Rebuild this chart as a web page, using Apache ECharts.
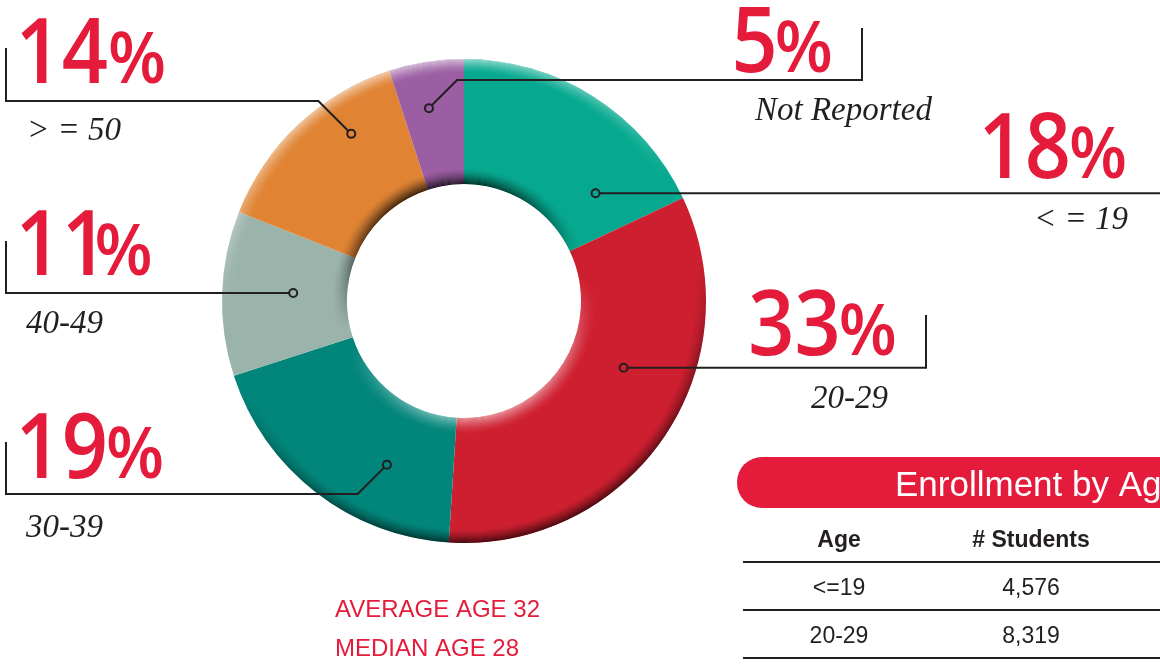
<!DOCTYPE html>
<html>
<head>
<meta charset="utf-8">
<script src="https://cdn.jsdelivr.net/npm/echarts@6/dist/echarts.min.js"></script>
<style>
html,body{margin:0;padding:0;background:#ffffff;}
#c{width:1160px;height:666px;}
</style>
</head>
<body>
<div id="c"></div>
<script>
// ---------------- data ----------------
const categories = ['< = 19', '20-29', '30-39', '40-49', '> = 50', 'Not Reported'];
const percents = [18, 33, 19, 11, 14, 5];
const sliceColors = ['#06A98F', '#CE1F30', '#02857A', '#9AB3AB', '#E08434', '#9B5EA3'];
const tableTitle = 'Enrollment by Age';
const tableHeaders = ['Age', '# Students'];
const tableAges = ['<=19', '20-29'];
const tableStudents = ['4,576', '8,319'];
const summaryLines = ['AVERAGE AGE 32', 'MEDIAN AGE 28'];

// ---------------- layout / style ----------------
const CENTER = [464, 301];
const RADII = [117, 242];
const RED = '#E41B3A';
const INK = '#231F20';

// annotation placement for each category (same order as categories)
const leaderLayout = [
  {deg: 50.7,  frac: 0.424, lineY: null, endX: 1175, tickTop: null, pctLeft: 984, pctBase: 178, catLeft: 1034, catBase: 229},
  {deg: 112.7, frac: 0.448, lineY: null, endX: 926,  tickTop: 315,  pctLeft: 751, pctBase: 355, catLeft: 811,  catBase: 408},
  {deg: 205.2, frac: 0.512, lineY: 494,  endX: 6,    tickTop: 442,  pctLeft: 21,  pctBase: 478, catLeft: 26,   catBase: 537},
  {deg: 272.7, frac: 0.432, lineY: null, endX: 6,    tickTop: 241,  pctLeft: 21,  pctBase: 275, catLeft: 26,   catBase: 333},
  {deg: 326,   frac: 0.677, lineY: 101,  endX: 6,    tickTop: 48,   pctLeft: 21,  pctBase: 83,  catLeft: 27,   catBase: 140},
  {deg: 349.7, frac: 0.632, lineY: 80,   endX: 862,  tickTop: 28,   pctLeft: 736, pctBase: 72,  catLeft: 755,  catBase: 120}
];

const chart = echarts.init(document.getElementById('c'), null, {renderer: 'canvas'});

// bevel shading rings (decorative overlays)
const OUTER_STOPS = [
  {offset: 0, color: 'rgba(255,255,255,0.65)'}, {offset: 0.38, color: 'rgba(255,255,255,0)'},
  {offset: 0.55, color: 'rgba(0,0,0,0)'}, {offset: 1, color: 'rgba(0,0,0,0.75)'}];
const INNER_STOPS = [
  {offset: 0, color: 'rgba(0,0,0,0.85)'}, {offset: 0.47, color: 'rgba(0,0,0,0)'},
  {offset: 0.55, color: 'rgba(255,255,255,0)'}, {offset: 1, color: 'rgba(255,255,255,0.55)'}];
function ring(r0, r1, stops, opacity) {
  return {
    type: 'pie', silent: true, animation: false, center: CENTER, radius: [r0, r1],
    label: {show: false}, labelLine: {show: false}, tooltip: {show: false},
    itemStyle: {borderWidth: 0, opacity: opacity,
      color: {type: 'linear', x: 0.35, y: 0, x2: 0.65, y2: 1, colorStops: stops, global: false}},
    data: [{value: 1, name: ''}]
  };
}
const overlays = [];
const OUTER_W = 14, INNER_W = 16;
for (let k = 0; k < OUTER_W; k++) {
  overlays.push(ring(RADII[1] - k - 1, RADII[1] - k, OUTER_STOPS, Math.pow(1 - k / OUTER_W, 1.6)));
}
for (let k = 0; k < INNER_W; k++) {
  overlays.push(ring(RADII[0] + k, RADII[0] + k + 1, INNER_STOPS, Math.pow(1 - k / INNER_W, 1.6)));
}

chart.setOption({
  animation: false,
  backgroundColor: '#ffffff',
  series: [{
    type: 'pie', name: 'Enrollment by age', center: CENTER, radius: RADII,
    startAngle: 90, clockwise: true, silent: true, animation: false,
    label: {show: false}, labelLine: {show: false},
    itemStyle: {borderWidth: 0},
    data: categories.map((c, i) => ({name: c, value: percents[i], itemStyle: {color: sliceColors[i]}}))
  }].concat(overlays)
});

// ---------------- annotations ----------------
const mctx = document.createElement('canvas').getContext('2d');
function fontStr(style, weight, size, family) { return style + ' ' + weight + ' ' + size + 'px ' + family; }
function measure(font, txt) { mctx.font = font; mctx.textBaseline = 'middle'; return mctx.measureText(txt); }
function baseOff(font) { return measure(font, 'H').actualBoundingBoxDescent; }

const PCT_FAMILY = '"Open Sans", sans-serif';
const CAT_FAMILY = '"Liberation Serif", "Times New Roman", serif';
const SANS = '"Liberation Sans", Arial, sans-serif';

// percentage font sizes derived from target glyph heights
const DIGIT_WEIGHT = '600';
const probeD = measure(fontStr('normal', DIGIT_WEIGHT, 100, PCT_FAMILY), '4');
const DIGIT_SIZE = Math.round(100 * 65 / (probeD.actualBoundingBoxAscent + probeD.actualBoundingBoxDescent));
const probeP = measure(fontStr('normal', '600', 100, PCT_FAMILY), '%');
const PCT_SIZE = Math.round(100 * 52 / (probeP.actualBoundingBoxAscent + probeP.actualBoundingBoxDescent));
const digitFont = fontStr('normal', DIGIT_WEIGHT, DIGIT_SIZE, PCT_FAMILY);
const pctFont = fontStr('normal', '600', PCT_SIZE, PCT_FAMILY);
const m18 = measure(digitFont, '18');
const DIGIT_SCALE = 84 / (m18.actualBoundingBoxLeft + m18.actualBoundingBoxRight);
const mP = measure(pctFont, '%');
const PCT_SCALE = 54 / (mP.actualBoundingBoxLeft + mP.actualBoundingBoxRight);

function textEl(txt, x, baseline, opts) {
  const font = fontStr(opts.style || 'normal', opts.weight || 'normal', opts.size, opts.family);
  return {
    type: 'text', x: x, y: baseline - baseOff(font), scaleX: opts.scaleX || 1, z: 20, silent: true,
    style: {text: txt, x: 0, y: 0, fill: opts.color, fontSize: opts.size, fontFamily: opts.family,
      fontWeight: opts.weight || 'normal', fontStyle: opts.style || 'normal',
      align: opts.align || 'left', verticalAlign: 'middle'}
  };
}

function buildGraphic() {
  const els = [];
  let cx = CENTER[0], cy = CENTER[1], r0 = RADII[0], r = RADII[1];
  try {
    const lay = chart.getModel().getSeriesByIndex(0).getData().getItemLayout(0);
    if (lay) { cx = lay.cx; cy = lay.cy; r0 = lay.r0; r = lay.r; }
  } catch (e) {}

  leaderLayout.forEach((L, i) => {
    const rad = L.deg * Math.PI / 180;
    const d = r0 + L.frac * (r - r0);
    const ax = cx + d * Math.sin(rad), ay = cy - d * Math.cos(rad);
    const pts = [];
    const dir = L.endX > ax ? 1 : -1;
    let ny;
    if (L.lineY !== null) {
      const bx = ax + dir * Math.abs(L.lineY - ay);
      pts.push([bx, L.lineY]);
      ny = L.lineY;
    } else {
      ny = ay;
    }
    pts.push([L.endX, ny]);
    if (L.tickTop !== null) pts.push([L.endX, L.tickTop]);
    const fx = pts[0][0] - ax, fy = pts[0][1] - ay, fl = Math.hypot(fx, fy) || 1;
    pts.unshift([ax + fx / fl * 4, ay + fy / fl * 4]);
    els.push({type: 'polyline', z: 15, silent: true, shape: {points: pts},
      style: {stroke: INK, lineWidth: 2, fill: null, lineJoin: 'miter'}});
    els.push({type: 'circle', z: 16, silent: true, shape: {cx: ax, cy: ay, r: 4},
      style: {stroke: INK, lineWidth: 2, fill: null}});

    // percentage label
    const digits = String(percents[i]);
    const md = measure(digitFont, digits);
    const dx0 = L.pctLeft + md.actualBoundingBoxLeft * DIGIT_SCALE;
    const digitsInkRight = dx0 + md.actualBoundingBoxRight * DIGIT_SCALE;
    els.push(textEl(digits, dx0, L.pctBase, {size: DIGIT_SIZE, family: PCT_FAMILY, weight: DIGIT_WEIGHT, color: RED, scaleX: DIGIT_SCALE}));
    const px0 = digitsInkRight + 3 + mP.actualBoundingBoxLeft * PCT_SCALE;
    els.push(textEl('%', px0, L.pctBase, {size: PCT_SIZE, family: PCT_FAMILY, weight: '600', color: RED, scaleX: PCT_SCALE}));

    // category label
    els.push(textEl(categories[i], L.catLeft, L.catBase, {size: 33, family: CAT_FAMILY, style: 'italic', color: INK}));
  });

  // summary lines
  const sumBases = [617, 656];
  summaryLines.forEach((s, i) => els.push(textEl(s, 335, sumBases[i], {size: 24, family: SANS, color: RED})));

  // table
  els.push({type: 'rect', z: 10, silent: true, shape: {x: 737, y: 457, width: 460, height: 51, r: [25, 0, 0, 25]},
    style: {fill: RED}});
  els.push(textEl(tableTitle, 895, 496, {size: 35, family: SANS, color: '#ffffff'}));
  const colX = [839, 1031];
  tableHeaders.forEach((h, j) => els.push(textEl(h, colX[j], 547, {size: 23, family: SANS, weight: 'bold', color: INK, align: 'center'})));
  const ruleY = [562, 610, 658];
  ruleY.forEach(y => els.push({type: 'line', z: 12, silent: true, shape: {x1: 743, y1: y, x2: 1165, y2: y},
    style: {stroke: INK, lineWidth: 2}}));
  const rowBase = [595, 643];
  tableAges.forEach((a, k) => {
    els.push(textEl(a, colX[0], rowBase[k], {size: 23, family: SANS, color: INK, align: 'center'}));
    els.push(textEl(tableStudents[k], colX[1], rowBase[k], {size: 23, family: SANS, color: INK, align: 'center'}));
  });
  return els;
}

chart.setOption({graphic: {elements: buildGraphic()}});
</script>
</body>
</html>
